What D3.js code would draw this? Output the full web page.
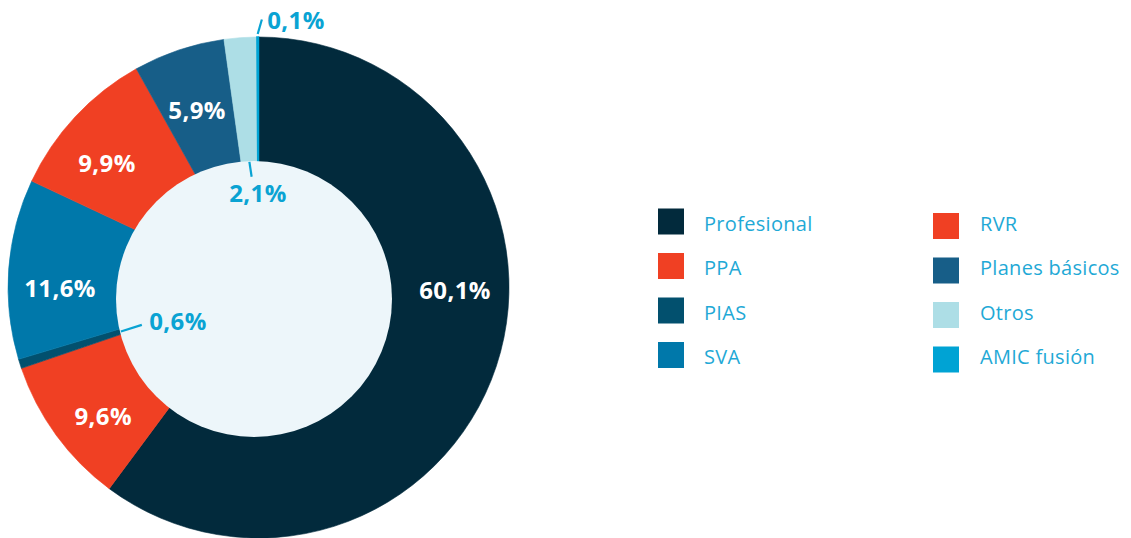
<!DOCTYPE html>
<html>
<head>
<meta charset="utf-8">
<script src="https://cdn.jsdelivr.net/npm/d3@7"></script>
<style>
  html, body { margin: 0; padding: 0; background: #ffffff; }
  svg { display: block; }
  text { font-family: "Open Sans", "DejaVu Sans", sans-serif; }
</style>
</head>
<body>
<svg id="chart" width="1131" height="538"></svg>
<script>
// ---- data ----
const categories = ["Profesional", "PPA", "PIAS", "SVA", "RVR", "Planes básicos", "Otros", "AMIC fusión"];
const values = [60.1, 9.6, 0.6, 11.6, 9.9, 5.9, 2.1, 0.1];
const valueLabels = ["60,1%", "9,6%", "0,6%", "11,6%", "9,9%", "5,9%", "2,1%", "0,1%"];
const colors = ["#022A3C", "#F04023", "#02506E", "#0078AA", "#F04023", "#175E88", "#ADDEE6", "#00A3D4"];
// legend layout: two columns
const legendLeft = ["Profesional", "PPA", "PIAS", "SVA"];
const legendRight = ["RVR", "Planes básicos", "Otros", "AMIC fusión"];

// label placement (polar, degrees clockwise from top, radius), outside flag
const labelPolar = [[90.7, 196.5], [230.6, 201], [247.7, 87], [270, 198.5], [309.6, 196.7], [341, 188.8], [359.7, 95.5], [7.95, 271]];
const labelInside = [true, true, false, true, true, true, false, false];
// leader lines: [r1, r2, angle offset at r2 (deg)]
const leaders = { 2: [144.5, 122.5, 0], 6: [126, 111, 0.6], 7: [253.5, 268, 0.9] };

const svg = d3.select("#chart");
const cx = 258.5, cy = 287.5, R = 250.5;
const holeCx = 254, holeCy = 299, holeR = 138;

const pie = d3.pie().sort(null).value(d => d)(values);
const arc = d3.arc().innerRadius(0).outerRadius(R);

const g = svg.append("g").attr("transform", `translate(${cx},${cy})`);
g.selectAll("path.slice").data(pie).join("path")
  .attr("class", "slice")
  .attr("d", arc)
  .attr("fill", (d, i) => colors[i])
  .attr("stroke", (d, i) => colors[i])
  .attr("stroke-width", (d, i) => i === 7 ? 1.5 : 0.6)
  .attr("stroke-linejoin", "miter");

// inner hole
svg.append("circle").attr("cx", holeCx).attr("cy", holeCy).attr("r", holeR).attr("fill", "#EDF6FA");

const rad = a => a * Math.PI / 180;
const polar = (aDeg, r) => [r * Math.sin(rad(aDeg)), -r * Math.cos(rad(aDeg))];

const lg2 = svg.append("g").attr("transform", `translate(${cx},${cy})`);

// leader lines
Object.entries(leaders).forEach(([k, l]) => {
  const d = pie[+k];
  const mid = (d.startAngle + d.endAngle) / 2 * 180 / Math.PI;
  const p1 = polar(mid, l[0]);
  const p2 = polar(mid + l[2], l[1]);
  lg2.append("line")
    .attr("x1", p1[0]).attr("y1", p1[1]).attr("x2", p2[0]).attr("y2", p2[1])
    .attr("stroke", "#0AA3D3").attr("stroke-width", 2.2);
});

// value labels
lg2.selectAll("text.val").data(pie).join("text")
  .attr("class", "val")
  .attr("x", (d, i) => polar(labelPolar[i][0], labelPolar[i][1])[0])
  .attr("y", (d, i) => polar(labelPolar[i][0], labelPolar[i][1])[1])
  .attr("text-anchor", "middle")
  .attr("dominant-baseline", "central")
  .attr("font-size", 24)
  .attr("font-weight", 700)
  .attr("letter-spacing", 0.4)
  .attr("fill", (d, i) => labelInside[i] ? "#ffffff" : "#0AA3D3")
  .text((d, i) => valueLabels[i]);

// legend
const colorOf = c => colors[categories.indexOf(c)];
const rowY = d3.scalePoint().domain(d3.range(4)).range([223, 356.5]);
function legendCol(items, sqX, txtX, sqOff) {
  const lg = svg.append("g");
  items.forEach((c, i) => {
    const y = rowY(i);
    lg.append("rect").attr("x", sqX).attr("y", y - 13 + sqOff).attr("width", 26).attr("height", 26).attr("fill", colorOf(c));
    lg.append("text").attr("x", txtX).attr("y", y).attr("dominant-baseline", "central")
      .attr("font-size", 20).attr("letter-spacing", 0.3).attr("fill", "#1FA9D6").text(c);
  });
}
legendCol(legendLeft, 658, 704, -1.5);
legendCol(legendRight, 933, 980, 3);
</script>
</body>
</html>
